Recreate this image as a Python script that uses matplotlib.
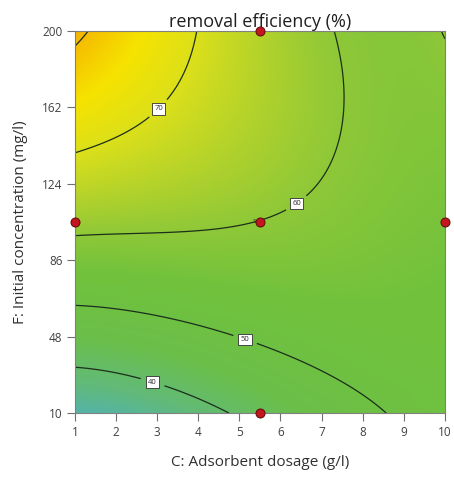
import numpy as np
import matplotlib
matplotlib.use("Agg")
import matplotlib.pyplot as plt
from matplotlib.colors import LinearSegmentedColormap

plt.rcParams['font.family'] = ['Open Sans', 'DejaVu Sans']

# factor ranges (actual units)
dose_range = [1, 10]          # C: adsorbent dosage, g/l
conc_range = [10, 200]        # F: initial concentration, mg/l

# response model in coded units A, B (-1..1): sum of coef * A^i * B^j
pow_a = [0, 0, 0, 0, 0, 1, 1, 1, 1, 2, 2, 2, 3, 3, 4]
pow_b = [0, 1, 2, 3, 4, 0, 1, 2, 3, 0, 1, 2, 0, 1, 0]
coef = [59.91, 11.14, -6.83, 0.06, 0.36, -3.09, -13.96, 2.58, 0.14,
        -1.76, 3.12, 3.87, 0.28, 3.55, 0.84]

contour_levels = [40, 50, 60, 70, 80]
label_at = [(3.0, 162), (6.4, 114), (5.18, 49), (2.9, 26)]

# design points
design_dose = [1, 5.5, 5.5, 10, 5.5]
design_conc = [105, 200, 105, 105, 10]

xticks = [1, 2, 3, 4, 5, 6, 7, 8, 9, 10]
yticks = [10, 48, 86, 124, 162, 200]

# colour scale nodes (response value, colour)
cmap_nodes = [(31, '#52b2b0'), (37, '#61ba7a'), (45, '#6bbf4a'), (55, '#72c23c'),
              (60, '#8ec838'), (65, '#b6d32a'), (70, '#dce01a'), (75, '#f6e300'),
              (81.5, '#f5b200')]


def response(c, f):
    a = (c - 5.5) / 4.5
    b = (f - 105) / 95
    return sum(k * a ** i * b ** j for k, i, j in zip(coef, pow_a, pow_b))


vmin, vmax = cmap_nodes[0][0], cmap_nodes[-1][0]
cmap = LinearSegmentedColormap.from_list(
    'de', [((v - vmin) / (vmax - vmin), col) for v, col in cmap_nodes])

cc, ff = np.meshgrid(np.linspace(*dose_range, 400), np.linspace(*conc_range, 400))
zz = response(cc, ff)

fig = plt.figure(figsize=(4.54, 4.82), dpi=100)
ax = fig.add_axes([0.165, 0.143, 0.815, 0.793])

ax.imshow(zz, origin='lower', extent=[*dose_range, *conc_range], aspect='auto',
          cmap=cmap, vmin=vmin, vmax=vmax, interpolation='bilinear')
cs = ax.contour(cc, ff, zz, levels=contour_levels, colors='#1c2e1c', linewidths=0.9)
labels = ax.clabel(cs, fmt='%d', fontsize=5.5, inline=True, inline_spacing=8,
                   rightside_up=True, manual=label_at)
for t in labels:
    t.set_rotation(0)
    t.set_color('#303030')
    t.set_bbox(dict(boxstyle='square,pad=0.3', fc='white', ec='#303030', lw=0.6))

ax.plot(design_dose, design_conc, 'o', ms=6.5, mfc='#c4161c', mec='#5a0a0a', mew=0.7,
        clip_on=False, zorder=5)
ax.text(5.4, 104, '5', fontsize=4.5, ha='right', va='bottom', color='#303030')

ax.set_xlim(*dose_range)
ax.set_ylim(*conc_range)
ax.set_xticks(xticks)
ax.set_yticks(yticks)
ax.tick_params(direction='out', length=6, width=0.8, color='#707070',
               labelsize=8.5, labelcolor='#404040', pad=3)
for s in ax.spines.values():
    s.set_color('#808080')
    s.set_linewidth(0.8)

ax.set_title('removal efficiency (%)', fontsize=13, color='#202020', pad=3)
ax.set_xlabel('C: Adsorbent dosage (g/l)', fontsize=11, color='#303030', labelpad=12)
ax.set_ylabel('F: Initial concentration (mg/l)', fontsize=11, color='#303030', labelpad=10)

fig.savefig('out.png', dpi=100)
